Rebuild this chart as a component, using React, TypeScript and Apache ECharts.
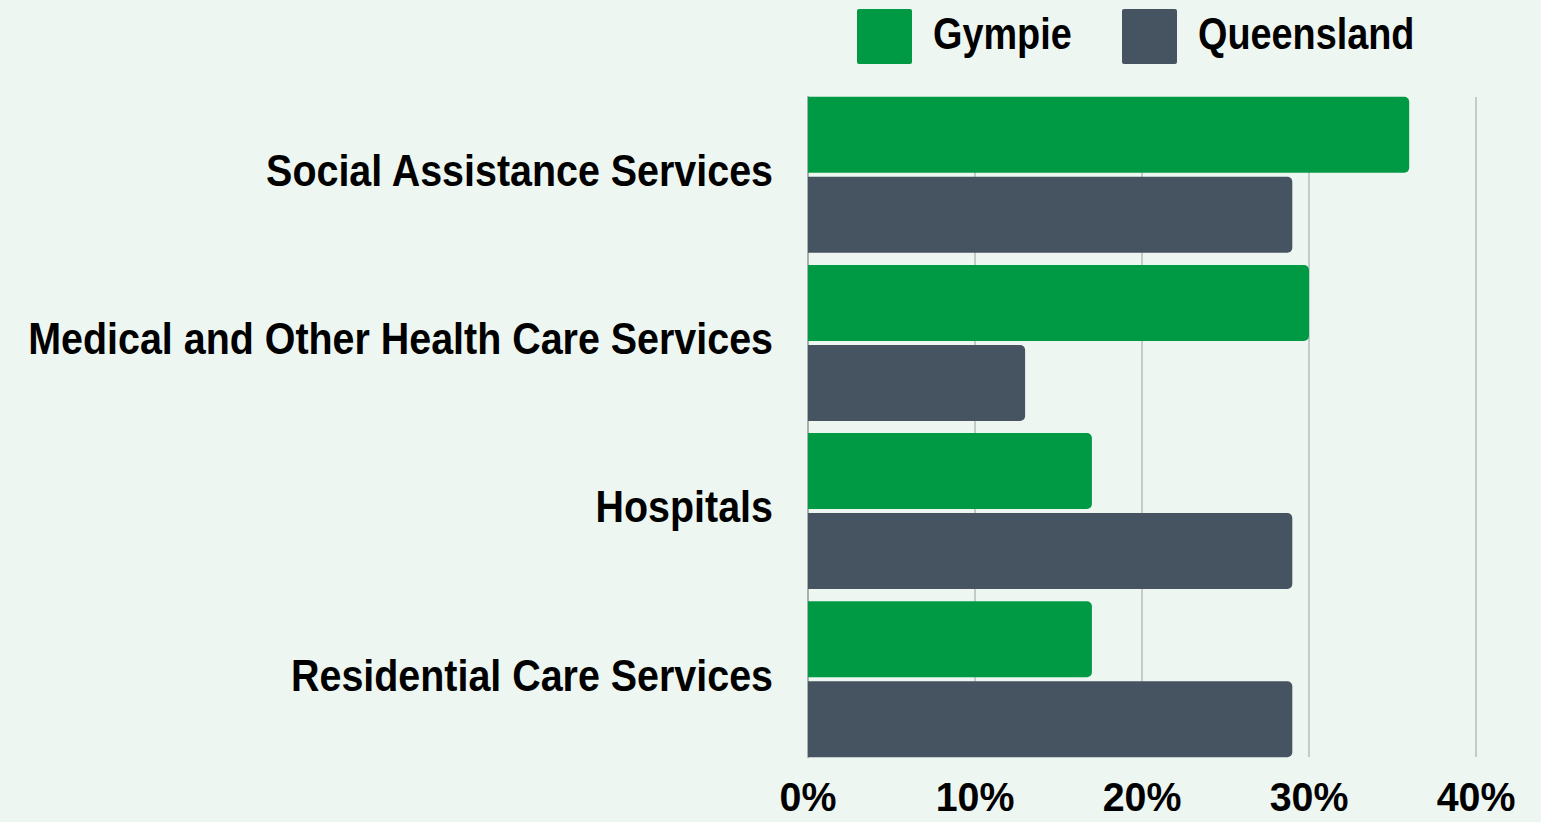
import React, { useEffect, useRef } from "react";
import * as echarts from "echarts";

const categories = [
  "Social Assistance Services",
  "Medical and Other Health Care Services",
  "Hospitals",
  "Residential Care Services",
];
const seriesNames = ["Gympie", "Queensland"];
const gympie = [36, 30, 17, 17];
const queensland = [29, 13, 29, 29];
const xTicks = [0, 10, 20, 30, 40];
const tickLabels = ["0%", "10%", "20%", "30%", "40%"];

const FONT = "'Liberation Sans', Arial, sans-serif";
const GREEN = "#009a44";
const GRAY = "#465361";

export default function App() {
  const ref = useRef<HTMLDivElement>(null);
  useEffect(() => {
    if (!ref.current) return;
    const chart = echarts.init(ref.current, undefined, { renderer: "svg" });
    chart.setOption({
      animation: false,
      backgroundColor: "#edf6f1",
      grid: [
        { left: 808, right: 65, top: 90.7, bottom: 58.7, outerBoundsMode: "none", containLabel: false },
        { left: 808, right: 65, top: 97, bottom: 65, outerBoundsMode: "none", containLabel: false },
      ],
      xAxis: [
        {
          gridIndex: 0,
          type: "value",
          min: xTicks[0],
          max: xTicks[xTicks.length - 1],
          interval: 10,
          show: false,
        },
        {
          gridIndex: 1,
          type: "value",
          min: xTicks[0],
          max: xTicks[xTicks.length - 1],
          interval: 10,
          axisLine: { show: false },
          axisTick: { show: false },
          splitLine: { show: true, lineStyle: { color: "#b6bdba", width: 1.5 } },
          axisLabel: { show: false },
        },
      ],
      yAxis: [
        {
          gridIndex: 0,
          type: "category",
          inverse: true,
          data: categories,
          axisLine: { show: false },
          axisTick: { show: false },
          axisLabel: { show: false },
        },
        {
          gridIndex: 1,
          type: "value",
          min: 0,
          max: 1,
          axisLine: { show: true, onZero: false, lineStyle: { color: "#a9b0ad", width: 2 } },
          axisTick: { show: false },
          axisLabel: { show: false },
          splitLine: { show: false },
        },
      ],
      series: [
        {
          name: seriesNames[0],
          type: "bar",
          xAxisIndex: 0,
          yAxisIndex: 0,
          data: gympie,
          barWidth: 76,
          barGap: "5.3%",
          itemStyle: { color: GREEN, borderRadius: [0, 5, 5, 0] },
          z: 3,
        },
        {
          name: seriesNames[1],
          type: "bar",
          xAxisIndex: 0,
          yAxisIndex: 0,
          data: queensland,
          barWidth: 76,
          barGap: "5.3%",
          itemStyle: { color: GRAY, borderRadius: [0, 5, 5, 0] },
          z: 3,
        },
      ],
    });

    const labelStyle = (text: string, align: string, size: number) => ({
      text,
      fill: "#000",
      font: `bold ${size}px ${FONT}`,
      align,
      verticalAlign: "middle",
      lineHeight: Math.round(size * 0.8),
    });

    const graphics: any[] = [];
    categories.forEach((c) => {
      const p = chart.convertToPixel({ gridIndex: 0 }, [0, c]) as number[];
      graphics.push({
        type: "text",
        x: p[0] - 35,
        y: p[1] - 4,
        scaleX: 0.876,
        style: labelStyle(c, "right", 45),
      });
    });
    xTicks.forEach((v, i) => {
      const px = chart.convertToPixel({ xAxisIndex: 1 }, v) as number;
      graphics.push({
        type: "text",
        x: px,
        y: 797.5,
        scaleX: 0.96,
        style: labelStyle(tickLabels[i], "center", 41),
      });
    });
    // legend
    const legendItems = [
      { name: seriesNames[0], color: GREEN, x: 857 },
      { name: seriesNames[1], color: GRAY, x: 1122 },
    ];
    legendItems.forEach((it) => {
      graphics.push({
        type: "rect",
        shape: { x: it.x, y: 9, width: 55, height: 55, r: 2 },
        style: { fill: it.color },
      });
      graphics.push({
        type: "text",
        x: it.x + 76,
        y: 33.5,
        scaleX: 0.86,
        style: labelStyle(it.name, "left", 44),
      });
    });
    chart.setOption({ graphic: graphics });
    return () => chart.dispose();
  }, []);
  return <div ref={ref} style={{ width: 1541, height: 822, position: "fixed", left: 0, top: 0 }} />;
}
